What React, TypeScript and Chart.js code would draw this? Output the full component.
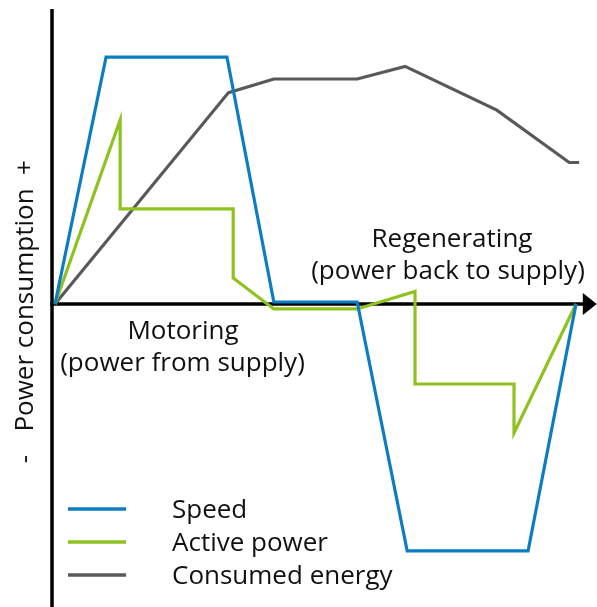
import React, { useEffect, useRef } from "react";
import { Chart, registerables } from "chart.js";

Chart.register(...registerables);

// Time axis (0 = start, 100 = end of cycle), values in % of rated
const speedX = [0, 9.8, 33.0, 42.0, 58.0, 67.6, 90.8, 100];
const speedY = [0, 100, 100, 0.8, 0.8, -100, -100, 0];

const powerX = [0, 12.5, 12.5, 34.2, 34.2, 42.0, 58.0, 69.1, 69.1, 88.1, 88.1, 100];
const powerY = [0, 74.5, 38.5, 38.5, 10.5, -2.0, -2.0, 5.1, -32.4, -32.4, -52.2, 0];

const energyX = [0, 33.3, 42.0, 58.0, 67.2, 84.8, 98.7, 100.6];
const energyY = [0, 85.6, 91.1, 91.1, 96.2, 78.5, 57.3, 57.3];

const seriesLabels = ["Speed", "Active power", "Consumed energy"];
const seriesColors = ["#0b7dc2", "#8dc21f", "#595959"];

const FONT = '26px "Open Sans", "Noto Sans", sans-serif';

const zip = (xs: number[], ys: number[]) => xs.map((x, i) => ({ x, y: ys[i] }));

const overlayPlugin = {
  id: "overlay",
  beforeDatasetsDraw(chart: any) {
    const { ctx, scales } = chart;
    const xs = scales.x;
    const ys = scales.y;
    const ox = xs.getPixelForValue(0) - 3;
    const oy = ys.getPixelForValue(0);
    ctx.save();
    ctx.strokeStyle = "#000";
    ctx.fillStyle = "#000";
    ctx.lineWidth = 3.5;
    // vertical axis
    ctx.beginPath();
    ctx.moveTo(ox, ys.getPixelForValue(119.5));
    ctx.lineTo(ox, chart.height);
    ctx.stroke();
    // horizontal axis
    const tip = xs.getPixelForValue(104);
    ctx.beginPath();
    ctx.moveTo(ox - 1.75, oy);
    ctx.lineTo(tip - 12, oy);
    ctx.stroke();
    // arrow head
    ctx.beginPath();
    ctx.moveTo(tip, oy);
    ctx.lineTo(tip - 14, oy - 11);
    ctx.lineTo(tip - 14, oy + 11);
    ctx.closePath();
    ctx.fill();
    ctx.restore();
  },
  afterDraw(chart: any) {
    const { ctx } = chart;
    ctx.save();
    ctx.font = FONT;
    ctx.fillStyle = "#111";
    ctx.textBaseline = "alphabetic";
    ctx.textAlign = "center";
    ctx.fillText("Motoring", 183, 339);
    ctx.fillText("(power from supply)", 182.5, 371);
    ctx.fillText("Regenerating", 452, 247);
    ctx.fillText("(power back to supply)", 448, 279);

    // rotated axis title
    ctx.save();
    ctx.translate(33, 0);
    ctx.rotate(-Math.PI / 2);
    ctx.fillText("Power consumption", -310, 0);
    ctx.fillText("+", -167.5, 0);
    ctx.fillText("-", -459, 0);
    ctx.restore();

    // legend
    const rows = [509, 542, 575];
    chart.data.datasets.forEach((ds: any, i: number) => {
      const y = rows[i];
      ctx.strokeStyle = ds.borderColor;
      ctx.lineWidth = 3.5;
      ctx.beginPath();
      ctx.moveTo(68, y);
      ctx.lineTo(126, y);
      ctx.stroke();
      ctx.textAlign = "left";
      ctx.fillStyle = "#111";
      ctx.fillText(ds.label, 172, y + 8.5);
    });
    ctx.restore();
  },
};

export default function App() {
  const ref = useRef<HTMLCanvasElement | null>(null);

  useEffect(() => {
    let chart: Chart | null = null;
    let cancelled = false;
    const build = () => {
      if (cancelled || !ref.current) return;
      chart = new Chart(ref.current, {
        type: "line",
        data: {
          datasets: [
            {
              label: seriesLabels[0],
              data: zip(speedX, speedY),
              borderColor: seriesColors[0],
            },
            {
              label: seriesLabels[1],
              data: zip(powerX, powerY),
              borderColor: seriesColors[1],
            },
            {
              label: seriesLabels[2],
              data: zip(energyX, energyY),
              borderColor: seriesColors[2],
            },
          ].map((d) => ({
            ...d,
            borderWidth: 3.2,
            pointRadius: 0,
            tension: 0,
            fill: false,
            borderJoinStyle: "miter" as const,
            clip: false as any,
          })),
        },
        options: {
          animation: false,
          responsive: false,
          devicePixelRatio: 1,
          layout: { padding: 0, autoPadding: false },
          scales: {
            x: { type: "linear", min: -10.56, max: 104.03, display: false },
            y: { type: "linear", min: -122.7, max: 123.1, display: false },
          },
          plugins: {
            legend: { display: false },
            tooltip: { enabled: false },
          },
          events: [],
        },
        plugins: [overlayPlugin],
      });
    };
    const fonts: any = (document as any).fonts;
    if (fonts && fonts.load) {
      fonts.load(FONT).then(build, build);
    } else {
      build();
    }
    return () => {
      cancelled = true;
      if (chart) chart.destroy();
    };
  }, []);

  return (
    <div style={{ position: "absolute", left: 0, top: 0, width: 597, height: 607, background: "#fff" }}>
      <canvas ref={ref} width={597} height={607} style={{ display: "block", width: 597, height: 607 }} />
    </div>
  );
}
